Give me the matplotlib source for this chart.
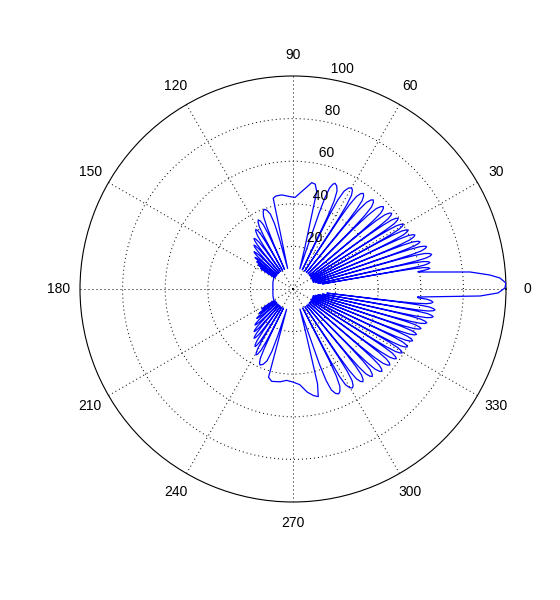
import numpy as np
import matplotlib
matplotlib.use("Agg")
import matplotlib.pyplot as plt

plt.rcParams['font.family'] = ['Liberation Sans', 'DejaVu Sans']

# ---------------- data (angles in degrees) ----------------
# main beam
ml_deg = [-3.66, -2.14, -1.1, 0.27, 1.61, 3.04, 4.06, 5.49, 7.74]
ml_r = [58.8, 87.9, 96.3, 99.5, 100.0, 97.3, 92.7, 83.5, 59.2]

# upper-right side lobes
ur_peak_deg = [8.6, 11.0, 14.0, 17.6, 20.4, 23.9, 27.1, 30.4, 33.9, 37.5, 42.3, 48.0, 53.7, 59.9, 68.3]
ur_peak_r = [65.0, 65.5, 67.1, 65.8, 63.6, 62.6, 60.8, 60.0, 59.5, 58.4, 57.4, 56.3, 55.7, 54.9, 53.4]
ur_null_deg = [7.74, 9.8, 12.5, 15.8, 19.0, 22.1, 25.5, 28.7, 32.1, 35.7, 39.9, 45.1, 50.8, 56.8, 64.1, 71.3]
ur_null_r = [59.2, 14, 12, 11, 10, 10, 10, 10, 10, 10, 10, 10, 10, 10, 10, 10]

# upper broad lobe around 90 deg
ub_deg = [74.0, 75.5, 76.3, 78.0, 80.0, 84.0, 88.7, 91.9, 96.9, 100.4, 102.3]
ub_r = [20.0, 32.0, 47.0, 50.3, 50.7, 46.7, 43.0, 43.4, 44.5, 44.4, 43.6]

# upper-left (back) lobes
ul_peak_deg = [110.0, 116.7, 122.0, 127.6, 131.6, 136.3, 140.2, 143.0, 145.3, 147.4]
ul_peak_r = [39.8, 36.3, 33.0, 30.0, 27.6, 25.3, 23.2, 21.3, 19.8, 18.0]
ul_null_deg = [104.7, 113.5, 119.5, 124.8, 129.7, 134.0, 138.3, 141.6, 144.2, 146.4, 148.5]
ul_null_r = [10, 10, 10, 10, 10, 10, 10, 10, 10, 10, 10.5]

# back floor
bk_deg = [160.0, 170.0, 180.0, 190.0, 200.0]
bk_r = [10.0, 9.6, 9.4, 9.6, 10.0]

# lower-left (back) lobes
ll_peak_deg = [212.6, 215.8, 219.0, 223.5, 227.6, 231.7, 236.6, 240.7, 246.5]
ll_peak_r = [17.4, 19.5, 21.9, 24.6, 27.1, 29.5, 32.4, 35.5, 38.9]
ll_null_deg = [211.0, 214.2, 217.4, 221.2, 225.5, 229.6, 234.1, 238.6, 243.6, 252.5]
ll_null_r = [10.5, 10, 10, 10, 10, 10, 10, 10, 10, 10]

# lower broad lobe around 270 deg
lb_deg = [254.5, 257.0, 262.0, 266.0, 270.0, 274.0, 278.0, 281.0, 283.2, 284.5, 285.2, 286.5]
lb_r = [43.0, 44.5, 44.0, 43.0, 43.7, 45.0, 49.0, 51.0, 51.9, 46.0, 32.0, 20.0]

# lower-right side lobes
lr_peak_deg = [293.5, 301.0, 307.0, 312.2, 317.2, 321.9, 326.0, 329.7, 333.2, 336.6,
               339.8, 342.8, 345.8, 348.8, 351.6, 354.6]
lr_peak_r = [53.7, 54.2, 54.5, 55.4, 56.9, 57.8, 58.5, 59.4, 60.2, 61.2,
             61.8, 62.9, 64.8, 67.1, 67.4, 66.0]
lr_null_deg = [289.0, 297.2, 304.0, 309.6, 314.7, 319.5, 324.0, 327.9, 331.5, 334.9,
               338.2, 341.3, 344.3, 347.3, 350.2, 353.1, 356.34]
lr_null_r = [10, 10, 10, 10, 10, 10, 10, 10, 10, 10, 10, 10, 11, 12, 14, 16, 58.8]

FLOOR = 9.4

# lobe drawing profile (shape style): fraction of lobe span, drop below peak
LOBE_FRAC = [0.0, 0.04, 0.1, 0.2, 0.35, 0.5, 0.65, 0.8, 0.9, 0.96, 1.0]
LOBE_DROP = [0.0, 16.0, 8.0, 3.0, 0.8, 0.0, 0.8, 3.0, 8.0, 16.0, 0.0]

rgrid = [20, 40, 60, 80]
rlabels = [20, 40, 60, 80, 100]
theta_ticks = list(range(0, 360, 30))


def lobe_path(null_deg, null_r, peak_deg, peak_r):
    th, rr = [null_deg[0]], [null_r[0]]
    for i, (p, pr) in enumerate(zip(peak_deg, peak_r)):
        a0, a1 = null_deg[i], null_deg[i + 1]
        for f, d in zip(LOBE_FRAC[1:-1], LOBE_DROP[1:-1]):
            if f <= 0.5:
                a = a0 + (p - a0) * f / 0.5
                lo = max(FLOOR, null_r[i])
            else:
                a = p + (a1 - p) * (f - 0.5) / 0.5
                lo = max(FLOOR, null_r[i + 1])
            th.append(a)
            rr.append(max(pr - d, lo))
        th.append(a1)
        rr.append(null_r[i + 1])
    return th, rr


parts = [
    (ml_deg, ml_r),
    lobe_path(ur_null_deg, ur_null_r, ur_peak_deg, ur_peak_r),
    (ub_deg, ub_r),
    lobe_path(ul_null_deg, ul_null_r, ul_peak_deg, ul_peak_r),
    (bk_deg, bk_r),
    lobe_path(ll_null_deg, ll_null_r, ll_peak_deg, ll_peak_r),
    (lb_deg, lb_r),
    lobe_path(lr_null_deg, lr_null_r, lr_peak_deg, lr_peak_r),
]
theta = np.concatenate([np.asarray(p[0], float) for p in parts])
rho = np.concatenate([np.asarray(p[1], float) for p in parts])

fig = plt.figure(figsize=(5.6, 6.0), dpi=100, facecolor='white')
ax = fig.add_axes([80 / 560, 98 / 600, 426 / 560, 426 / 600], projection='polar')
ax.set_facecolor('white')

ax.plot(np.deg2rad(theta), rho, color=(0, 0, 1), lw=0.9, zorder=3)

ax.set_ylim(0, 100)
ax.set_rticks(rgrid)
ax.set_yticklabels([])
ax.set_xticks(np.deg2rad(theta_ticks))
ax.set_xticklabels([])
ax.tick_params(length=0)
ax.grid(True, color='black', linestyle=(0, (1, 3)), linewidth=0.72)
ax.spines['polar'].set_color('black')
ax.spines['polar'].set_linewidth(0.8)

for t in theta_ticks:
    ax.text(np.deg2rad(t), 110, str(t), ha='center', va='center', fontsize=10, clip_on=False)
for v in rlabels:
    ax.text(np.deg2rad(82), v + 1, '  ' + str(v), ha='left', va='bottom', fontsize=10,
            clip_on=False, zorder=4)

fig.savefig('out.png', dpi=100, facecolor='white')
